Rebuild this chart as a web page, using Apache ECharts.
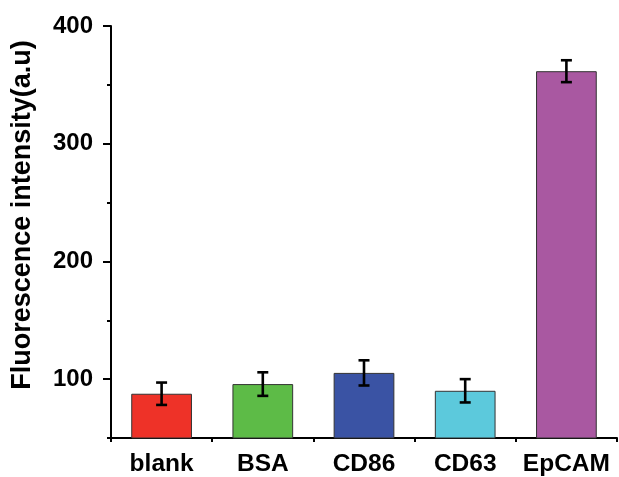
<!DOCTYPE html>
<html>
<head>
<meta charset="utf-8">
<script src="https://cdn.jsdelivr.net/npm/echarts@6/dist/echarts.min.js"></script>
<style>html,body{margin:0;padding:0;background:#fff}#c{width:619px;height:477px}</style>
</head>
<body>
<div id="c"></div>
<script>
var categories = ['blank', 'BSA', 'CD86', 'CD63', 'EpCAM'];
var values = [87.6, 95.8, 105.3, 90.1, 361.6];
var errors = [9.5, 10.0, 10.7, 9.9, 9.3];
var barColors = ['#EE3228', '#5DBB47', '#3A53A4', '#5CC9DC', '#A958A1'];
var yMajorTicks = [100, 200, 300, 400];
var yMinorTicks = [50, 150, 250, 350];
var yTitle = 'Fluorescence intensity(a.u)';

var FONT = '"Liberation Sans", Arial, sans-serif';
var chart = echarts.init(document.getElementById('c'), null, {renderer: 'canvas'});

var barData = values.map(function (v, i) {
  return {value: v, itemStyle: {color: barColors[i]}};
});
var errData = values.map(function (v, i) {
  return [i, v - errors[i], v + errors[i]];
});

chart.setOption({
  animation: false,
  grid: {left: 111, right: 2, top: 26, bottom: 38, containLabel: false},
  xAxis: [{
    type: 'category',
    data: categories,
    axisLine: {lineStyle: {color: '#000', width: 2}},
    axisTick: {alignWithLabel: true, length: 8, lineStyle: {color: '#000', width: 2}},
    axisLabel: {interval: 0, hideOverlap: false, color: '#000', fontSize: 24.5, fontWeight: 'bold', fontFamily: FONT, margin: 14}
  }, {
    type: 'category',
    data: categories,
    position: 'bottom',
    axisLine: {show: false},
    axisTick: {show: true, interval: 0, length: 4, lineStyle: {color: '#000', width: 2}},
    axisLabel: {show: false}
  }],
  yAxis: [{
    type: 'value',
    min: 50,
    max: 400,
    splitLine: {show: false},
    axisLine: {show: true, lineStyle: {color: '#000', width: 2}},
    axisTick: {show: true, length: 8, customValues: yMajorTicks, lineStyle: {color: '#000', width: 2}},
    axisLabel: {customValues: yMajorTicks, color: '#000', fontSize: 24, fontWeight: 'bold', fontFamily: FONT, margin: 18}
  }, {
    type: 'value',
    min: 50,
    max: 400,
    position: 'left',
    splitLine: {show: false},
    axisLine: {show: false},
    axisTick: {show: true, length: 4, customValues: yMinorTicks, lineStyle: {color: '#000', width: 2}},
    axisLabel: {show: false}
  }],
  graphic: [{
    type: 'text',
    x: 23,
    y: 215,
    rotation: Math.PI / 2,
    style: {
      text: yTitle,
      fontSize: 27,
      fontWeight: 'bold',
      fontFamily: FONT,
      fill: '#000',
      align: 'center',
      verticalAlign: 'middle'
    }
  }],
  series: [{
    type: 'bar',
    data: barData,
    barWidth: '60%',
    itemStyle: {borderColor: '#333', borderWidth: 1}
  }, {
    type: 'custom',
    data: errData,
    z: 10,
    renderItem: function (params, api) {
      var x = api.value(0);
      var lo = api.coord([x, api.value(1)]);
      var hi = api.coord([x, api.value(2)]);
      var hw = 5.5;
      var st = {stroke: '#000', lineWidth: 2.6};
      return {
        type: 'group',
        children: [
          {type: 'line', shape: {x1: lo[0], y1: lo[1], x2: hi[0], y2: hi[1]}, style: st},
          {type: 'line', shape: {x1: lo[0] - hw, y1: lo[1], x2: lo[0] + hw, y2: lo[1]}, style: st},
          {type: 'line', shape: {x1: hi[0] - hw, y1: hi[1], x2: hi[0] + hw, y2: hi[1]}, style: st}
        ]
      };
    }
  }]
});
</script>
</body>
</html>
